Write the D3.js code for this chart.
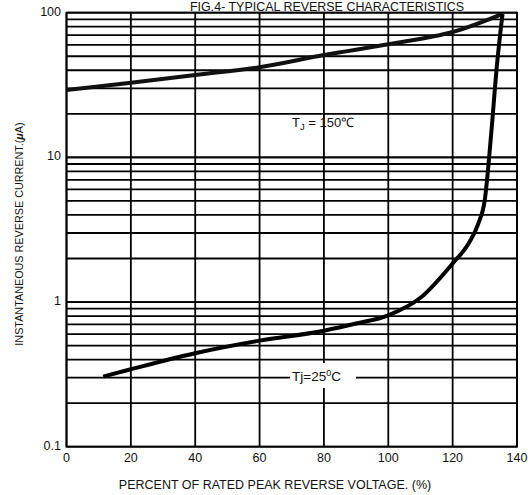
<!DOCTYPE html>
<html>
<head>
<meta charset="utf-8">
<script src="https://cdn.jsdelivr.net/npm/d3@7"></script>
<style>
  body { margin: 0; background: #fff; }
  svg { display: block; }
  text { font-family: Arial, "Liberation Sans", sans-serif; fill: #111; }
</style>
</head>
<body>
<svg id="chart" width="528" height="495"></svg>
<script>
// data
const pct150 = [0, 20, 40, 60, 80, 100, 120, 135.5];
const cur150 = [29.2, 32.8, 37.1, 42, 51, 60.5, 73.5, 98];

const pct25 = [11.4, 20, 40, 60, 80, 90, 100, 110, 120, 125, 128, 130, 132, 133.7, 135.5];
const cur25 = [0.305, 0.343, 0.443, 0.541, 0.634, 0.71, 0.81, 1.07, 1.85, 2.55, 3.5, 5.1, 14.7, 42, 98];

const xTicks = [0, 20, 40, 60, 80, 100, 120, 140];
const yTicks = [0.1, 1, 10, 100];
const yTickLabels = ["0.1", "1", "10", "100"];

const svg = d3.select("#chart");
const plotLeft = 66.5, plotRight = 517, plotTop = 12.7, plotBottom = 446.7;

const x = d3.scaleLinear().domain([0, 140]).range([plotLeft, plotRight]);
const y = d3.scaleLog().domain([0.1, 100]).range([plotBottom, plotTop]);

// minor grid lines: 2..9 of every decade plus the decades
const gridY = [];
[0.1, 1, 10].forEach(d => {
    for (let k = 1; k <= 10; k++) gridY.push(d * k);
});

const grid = svg.append("g").attr("stroke", "#000").attr("stroke-width", 1.8);

grid.selectAll("line.h")
    .data(gridY)
    .join("line")
    .attr("class", "h")
    .attr("x1", plotLeft).attr("x2", plotRight)
    .attr("y1", d => y(d)).attr("y2", d => y(d));

grid.selectAll("line.v")
    .data(xTicks)
    .join("line")
    .attr("class", "v")
    .attr("x1", d => x(d)).attr("x2", d => x(d))
    .attr("y1", plotTop).attr("y2", plotBottom);

// frame
svg.append("rect")
    .attr("x", plotLeft).attr("y", plotTop)
    .attr("width", plotRight - plotLeft).attr("height", plotBottom - plotTop)
    .attr("fill", "none").attr("stroke", "#000").attr("stroke-width", 1.8);

// title (sits right at the top edge, like the scan)
svg.append("text")
    .attr("x", 327).attr("y", 10.6)
    .attr("text-anchor", "middle")
    .attr("font-size", 13)
    .attr("textLength", 274)
    .attr("lengthAdjust", "spacingAndGlyphs")
    .text("FIG.4- TYPICAL REVERSE CHARACTERISTICS");

// x axis labels
svg.append("g")
    .selectAll("text")
    .data(xTicks)
    .join("text")
    .attr("x", d => x(d))
    .attr("y", 462)
    .attr("text-anchor", "middle")
    .attr("font-size", 12.5)
    .text(d => d);

// y axis labels
svg.append("g")
    .selectAll("text")
    .data(yTicks)
    .join("text")
    .attr("x", 61)
    .attr("y", d => y(d) + 3)
    .attr("text-anchor", "end")
    .attr("font-size", 12.5)
    .text((d, i) => yTickLabels[i]);

// axis titles
svg.append("text")
    .attr("x", 275).attr("y", 489)
    .attr("text-anchor", "middle")
    .attr("font-size", 12.5)
    .text("PERCENT OF RATED PEAK REVERSE VOLTAGE. (%)");

const yTitle = svg.append("text")
    .attr("transform", "translate(23,234) rotate(-90)")
    .attr("text-anchor", "middle")
    .attr("font-size", 10.8);
yTitle.append("tspan").text("INSTANTANEOUS REVERSE CURRENT.(");
yTitle.append("tspan").attr("font-style", "italic").attr("font-weight", "bold").text("\u03BC");
yTitle.append("tspan").text("A)");

// curves
const line150 = d3.line()
    .x(d => x(d[0]))
    .y(d => y(d[1]))
    .curve(d3.curveCatmullRom.alpha(0.5));

const line25 = d3.line()
    .x(d => x(d[0]))
    .y(d => y(d[1]))
    .curve(d3.curveMonotoneX);

svg.append("path")
    .datum(pct150.map((p, i) => [p, cur150[i]]))
    .attr("d", line150)
    .attr("fill", "none")
    .attr("stroke", "#111")
    .attr("stroke-width", 4);

svg.append("path")
    .datum(pct25.map((p, i) => [p, cur25[i]]))
    .attr("d", line25)
    .attr("fill", "none")
    .attr("stroke", "#000")
    .attr("stroke-width", 4);

// curve labels
const lab150 = svg.append("text")
    .attr("x", 292).attr("y", 127)
    .attr("font-size", 13);
lab150.append("tspan").text("T");
lab150.append("tspan").attr("dy", 3).attr("font-size", 9.5).text("J");
lab150.append("tspan").attr("dy", -3).text(" = 150\u2103");

svg.append("rect")
    .attr("x", 290).attr("y", 363)
    .attr("width", 66).attr("height", 25)
    .attr("fill", "#fff");
const lab25 = svg.append("text")
    .attr("x", 292).attr("y", 381)
    .attr("font-size", 13.5);
lab25.append("tspan").text("Tj=25");
lab25.append("tspan").attr("dy", -5).attr("font-size", 9).text("0");
lab25.append("tspan").attr("dy", 5).text("C");
</script>
</body>
</html>
